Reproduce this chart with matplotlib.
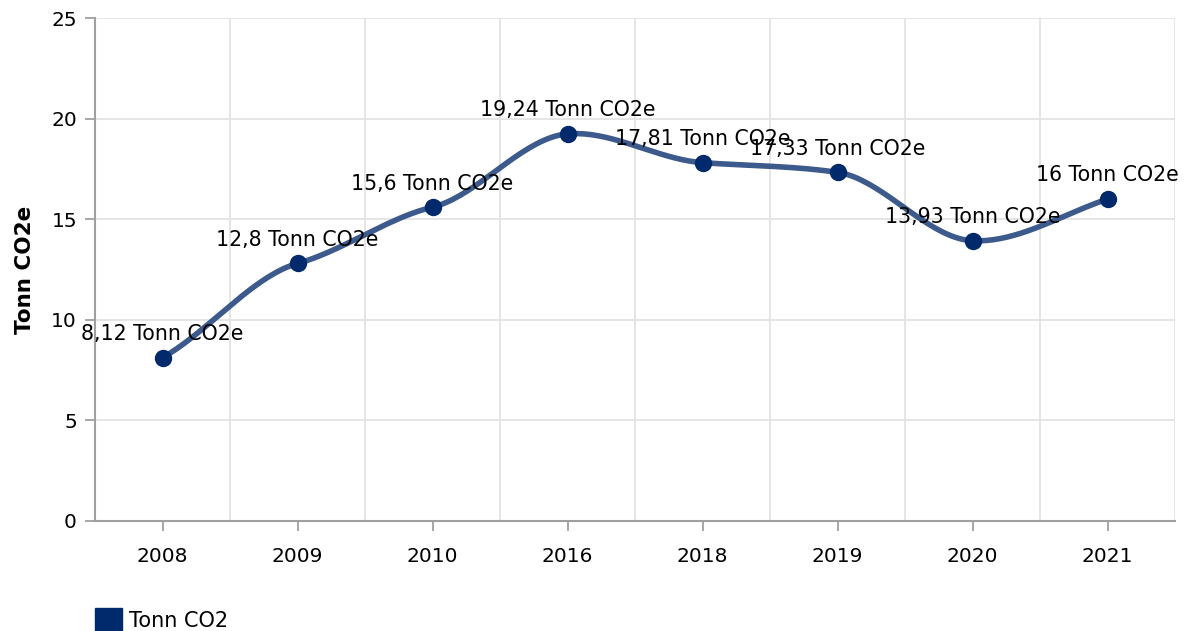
import numpy as np
import matplotlib.pyplot as plt
from matplotlib.patches import Patch

years = ["2008", "2009", "2010", "2016", "2018", "2019", "2020", "2021"]
values = [8.12, 12.8, 15.6, 19.24, 17.81, 17.33, 13.93, 16.0]
labels = ["8,12", "12,8", "15,6", "19,24", "17,81", "17,33", "13,93", "16"]
unit = "Tonn CO2e"
series_name = "Tonn CO2"

line_col = "#3c5a8b"
dot_col = "#002a6b"
grid_col = "#e3e3e3"
axis_col = "#a0a0a0"


def smooth_line(y, tension=0.5, steps=40):
    # cardinal spline through the points (unit spacing on x)
    y = np.asarray(y, dtype=float)
    n = len(y)
    m = np.zeros(n)
    for i in range(1, n - 1):
        m[i] = tension * (y[i + 1] - y[i - 1]) / 2
    m[0] = (y[1] - y[0]) - 0.5 * m[1]
    m[-1] = (y[-1] - y[-2]) - 0.5 * m[-2]
    t = np.linspace(0, 1, steps)
    h00 = 2 * t ** 3 - 3 * t ** 2 + 1
    h10 = t ** 3 - 2 * t ** 2 + t
    h01 = -2 * t ** 3 + 3 * t ** 2
    h11 = t ** 3 - t ** 2
    xs, ys = [], []
    for i in range(n - 1):
        xs.extend(i + t)
        ys.extend(h00 * y[i] + h10 * m[i] + h01 * y[i + 1] + h11 * m[i + 1])
    return np.array(xs), np.array(ys)


plt.rcParams["font.family"] = "DejaVu Sans"
fig = plt.figure(figsize=(11.85, 6.31), dpi=100)
ax = fig.add_axes([95 / 1185, 110 / 631, 1080 / 1185, 503 / 631])

xi = np.arange(len(years))
sx, sy = smooth_line(values)
ax.plot(sx, sy, color=line_col, lw=4, solid_capstyle="round", zorder=3)
ax.plot(xi, values, "o", color=dot_col, ms=11.5, zorder=4)

for i, v in enumerate(values):
    ax.annotate(f"{labels[i]} {unit}", (i, v), xytext=(0, 17), textcoords="offset points",
                ha="center", va="center", fontsize=14.8, color="black", zorder=5)

ax.set_xlim(-0.5, len(years) - 0.5)
ax.set_ylim(0, 25)
ax.set_yticks(range(0, 26, 5))
ax.set_xticks(xi)
ax.set_xticklabels(years)
ax.set_xticks(np.arange(-0.5, len(years), 1), minor=True)
ax.tick_params(axis="x", which="minor", length=0)
ax.grid(True, axis="y", color=grid_col, lw=1.3)
ax.grid(True, axis="x", which="minor", color=grid_col, lw=1.3)
ax.set_axisbelow(True)

for s in ["top", "right"]:
    ax.spines[s].set_visible(False)
for s in ["left", "bottom"]:
    ax.spines[s].set_color(axis_col)
    ax.spines[s].set_linewidth(1.5)
ax.tick_params(axis="both", which="major", colors=axis_col, labelcolor="black",
               labelsize=14.5, length=7, width=1.3)
ax.tick_params(axis="x", pad=12)
ax.tick_params(axis="y", pad=6)

ax.set_ylabel(unit, fontsize=15.5, fontweight="bold", labelpad=12)

handle = Patch(facecolor=dot_col, edgecolor=dot_col)
fig.legend([handle], [series_name], loc="lower left", bbox_to_anchor=(76 / 1185, -0.03),
           frameon=False, fontsize=15, handlelength=1.3, handleheight=1.3,
           handletextpad=0.35)

fig.savefig("out.png", dpi=100, facecolor="white")
